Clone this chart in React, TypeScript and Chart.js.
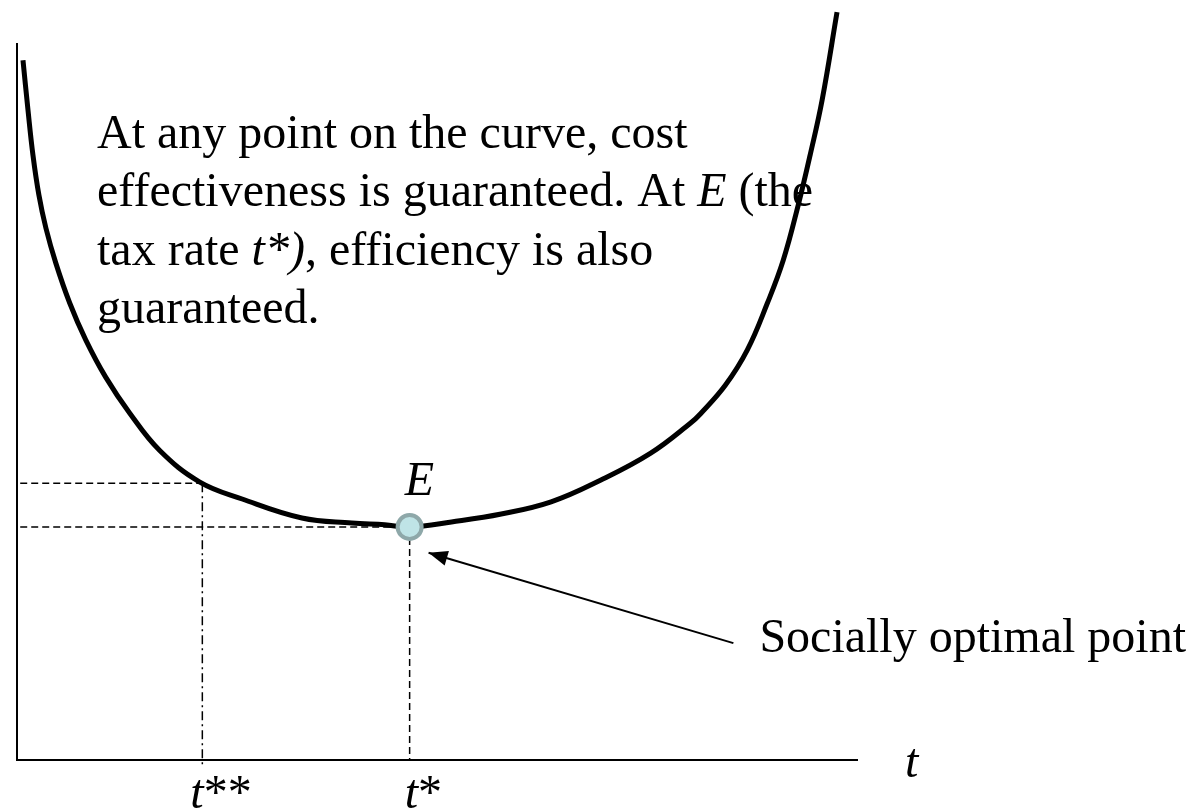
import { useEffect, useRef } from 'react';
import { Chart, registerables } from 'chart.js';

Chart.register(...registerables);

// Cost curve (t = tax rate, cost = total abatement cost)
const tValues = [0.83, 1.42, 2.01, 2.72, 3.55, 4.73, 6.39, 8.28, 10.65, 13.49, 17.04, 21.78, 26.86, 33.96, 39.88, 43.79, 46.75, 51.72, 57.63, 63.55, 69.47, 75.38, 80.12, 81.3, 84.26, 86.86, 89.23, 91.12, 92.9, 94.32, 95.74, 97.51];
const costValues = [97.6, 90.7, 84.4, 78.8, 74.2, 69.3, 63.7, 58.6, 53.4, 48.4, 43.2, 38.8, 36.4, 33.75, 33.05, 32.8, 32.5, 33.2, 34.3, 36.0, 39.05, 42.8, 47.0, 48.3, 52.3, 57.2, 63.7, 69.7, 77.4, 84.4, 92.05, 104.3];

// Key points
const tStar = 46.75;
const costStar = 32.5;
const tStarStar = 22.13;
const costStarStar = 38.6;

// Arrow from the label to E
const arrowT = [85.2, 49.0];
const arrowCost = [16.3, 28.9];

// Axis range
const tRange = [0, 100];
const costRange = [0, 100];
const guideStart = 0.5;

// Texts
const noteLines: [string, boolean][][] = [
  [['At any point on the curve, cost', false]],
  [['effectiveness is guaranteed. At ', false], ['E', true], [' (the', false]],
  [['tax rate ', false], ['t*)', true], [', efficiency is also', false]],
  [['guaranteed.', false]],
];
const pointLabel = 'E';
const arrowLabel = 'Socially optimal point';
const axisLabel = 't';
const tickLabels: [string, string][] = [['t', '**'], ['t', '*']];

const FONT = "'Liberation Serif', 'Times New Roman', serif";
const SIZE = 48;

function drawRich(ctx: CanvasRenderingContext2D, x: number, y: number, segs: [string, boolean][]) {
  let cx = x;
  for (const [txt, it] of segs) {
    ctx.font = `${it ? 'italic ' : ''}${SIZE}px ${FONT}`;
    ctx.fillText(txt, cx, y);
    cx += ctx.measureText(txt).width;
  }
}

const overlay = {
  id: 'overlay',
  beforeDatasetsDraw(chart: any) {
    const { ctx, chartArea: a } = chart;
    ctx.save();
    ctx.strokeStyle = '#000';
    ctx.lineWidth = 2;
    ctx.beginPath();
    ctx.moveTo(a.left + 1, a.top);
    ctx.lineTo(a.left + 1, a.bottom);
    ctx.lineTo(a.right, a.bottom);
    ctx.stroke();
    ctx.restore();
  },
  afterDatasetsDraw(chart: any) {
    const { ctx, chartArea: a } = chart;
    const xs = chart.scales.x;
    const ys = chart.scales.y;
    ctx.save();
    // arrowhead
    const x0 = xs.getPixelForValue(arrowT[0]);
    const y0 = ys.getPixelForValue(arrowCost[0]);
    const x1 = xs.getPixelForValue(arrowT[1]);
    const y1 = ys.getPixelForValue(arrowCost[1]);
    const ang = Math.atan2(y1 - y0, x1 - x0);
    const L = 19;
    const W = 7.5;
    ctx.fillStyle = '#000';
    ctx.beginPath();
    ctx.moveTo(x1, y1);
    ctx.lineTo(x1 - L * Math.cos(ang) + W * Math.sin(ang), y1 - L * Math.sin(ang) - W * Math.cos(ang));
    ctx.lineTo(x1 - L * Math.cos(ang) - W * Math.sin(ang), y1 - L * Math.sin(ang) + W * Math.cos(ang));
    ctx.closePath();
    ctx.fill();

    ctx.textBaseline = 'alphabetic';
    ctx.textAlign = 'left';
    // note paragraph
    noteLines.forEach((segs, i) => drawRich(ctx, 97, 148 + i * 58.3, segs));
    // arrow label
    drawRich(ctx, x0 + 26, y0 + 9, [[arrowLabel, false]]);
    // point label
    const px = xs.getPixelForValue(tStar);
    const py = ys.getPixelForValue(costStar);
    drawRich(ctx, px - 5, py - 32, [[pointLabel, true]]);
    // axis label
    drawRich(ctx, a.right + 47, a.bottom + 17, [[axisLabel, true]]);
    // tick labels
    const tickPos = [xs.getPixelForValue(tStarStar) - 12, xs.getPixelForValue(tStar) - 5];
    tickLabels.forEach(([a1, b1], i) => drawRich(ctx, tickPos[i], a.bottom + 48, [[a1, true], [b1, false]]));
    ctx.restore();
  },
};

export default function App() {
  const ref = useRef<HTMLCanvasElement>(null);
  useEffect(() => {
    document.body.style.margin = '0';
    const curve = tValues.map((t, i) => ({ x: t, y: costValues[i] }));
    const chart = new Chart(ref.current!, {
      type: 'line',
      data: {
        datasets: [
          {
            label: 'E',
            data: [{ x: tStar, y: costStar }],
            showLine: false,
            pointRadius: 12,
            pointBorderWidth: 4,
            pointBorderColor: '#8ea8a9',
            pointBackgroundColor: '#bfe4e6',
            clip: false,
          },
          {
            label: 'cost',
            data: curve,
            borderColor: '#000',
            borderWidth: 5,
            pointRadius: 0,
            tension: 0.4,
            borderCapStyle: 'butt',
            clip: false,
          },
          {
            label: 'arrow',
            data: [{ x: arrowT[0], y: arrowCost[0] }, { x: arrowT[1], y: arrowCost[1] }],
            borderColor: '#000',
            borderWidth: 2,
            pointRadius: 0,
            clip: false,
          },
          {
            label: 'h*',
            data: [{ x: guideStart, y: costStar }, { x: tStar, y: costStar }],
            borderColor: '#000',
            borderWidth: 1.5,
            borderDash: [7, 4],
            pointRadius: 0,
          },
          {
            label: 'v*',
            data: [{ x: tStar, y: costStar }, { x: tStar, y: 0 }],
            borderColor: '#000',
            borderWidth: 1.5,
            borderDash: [7, 4],
            pointRadius: 0,
          },
          {
            label: 'h**',
            data: [{ x: guideStart, y: costStarStar }, { x: tStarStar, y: costStarStar }],
            borderColor: '#000',
            borderWidth: 1.5,
            borderDash: [7, 4],
            pointRadius: 0,
          },
          {
            label: 'v**',
            data: [{ x: tStarStar, y: costStarStar }, { x: tStarStar, y: -1 }],
            borderColor: '#000',
            borderWidth: 1.5,
            borderDash: [9, 4, 2, 4],
            pointRadius: 0,
            clip: false,
          },
        ],
      },
      options: {
        responsive: false,
        animation: false,
        devicePixelRatio: 1,
        layout: { padding: { left: 13, right: 332, top: 43, bottom: 50 } },
        scales: {
          x: { type: 'linear', min: tRange[0], max: tRange[1], display: false },
          y: { type: 'linear', min: costRange[0], max: costRange[1], display: false },
        },
        plugins: { legend: { display: false }, tooltip: { enabled: false } },
        elements: { line: { fill: false } },
      },
      plugins: [overlay],
    } as any);
    return () => chart.destroy();
  }, []);
  return (
    <div style={{ width: 1190, height: 810 }}>
      <canvas ref={ref} width={1190} height={810} style={{ display: 'block' }} />
    </div>
  );
}
